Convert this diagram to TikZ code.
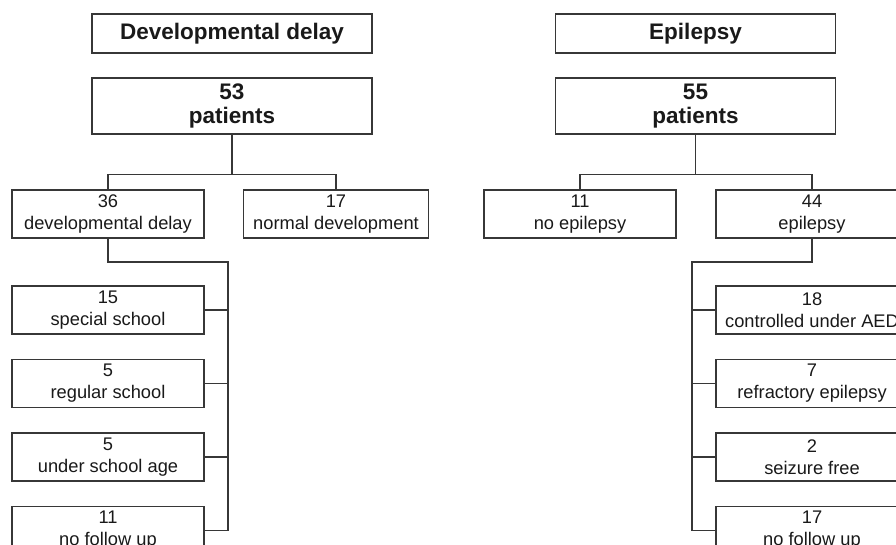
\documentclass[tikz,border=0pt]{standalone}
\usepackage{fontspec}
\setmainfont{Liberation Sans}
\definecolor{boxgray}{RGB}{55,55,55}
\usetikzlibrary{positioning,chains}

\begin{document}
\begin{tikzpicture}[x=0.025cm,y=-0.025cm,
    every node/.style={draw=boxgray,line width=1pt,rectangle,align=center,inner sep=0pt,text=black!90},
    titlenode/.style={minimum width=7cm,minimum height=0.975cm,font=\fontsize{16}{17.5}\selectfont\bfseries},
    topnode/.style={minimum width=7cm,minimum height=1.4cm,font=\fontsize{16}{17.5}\selectfont\bfseries},
    subnode/.style={minimum width=4.8cm,minimum height=1.2cm,font=\fontsize{13}{15.5}\selectfont},
    link/.style={draw=boxgray,line width=1pt}
    ]
    \clip (0,0) rectangle (896,545);

    % the developmental delay tree
    \node[titlenode] (dtitle) at (232,33.5) {Developmental delay};
    \node[topnode] (dall) at (232,106) {53\\patients};
    \node[subnode] (ddelay) at (108,214) {36\\developmental delay};
    \node[subnode,minimum width=4.62cm] (dnormal) at (336,214) {17\\normal development};
    \begin{scope}[start chain=going below,node distance=0.6cm]
    \node[subnode,on chain] (d1) at (108,310) {15\\special school};
    \node[subnode,on chain] (d2) {5\\regular school};
    \node[subnode,on chain] (d3) {5\\under school age};
    \node[subnode,on chain] (d4) {11\\no follow up};
    \end{scope}
    \coordinate (dbus) at (228,262);

    % the epilepsy tree
    \node[titlenode] (etitle) at (695.5,33.5) {Epilepsy};
    \node[topnode] (eall) at (695.5,106) {55\\patients};
    \node[subnode] (enone) at (580,214) {11\\no epilepsy};
    \node[subnode] (eyes) at (812,214) {44\\epilepsy};
    \begin{scope}[start chain=going below,node distance=0.6cm]
    \node[subnode,on chain] (e1) at (812,310) {18\\controlled under AED};
    \node[subnode,on chain] (e2) {7\\refractory epilepsy};
    \node[subnode,on chain] (e3) {2\\seizure free};
    \node[subnode,on chain] (e4) {17\\no follow up};
    \end{scope}
    \coordinate (ebus) at (692,262);

    % the edges
    \draw[link] (dall.south) -- ++(0,40) -| (ddelay.north);
    \draw[link] (dall.south) -- ++(0,40) -| (dnormal.north);
    \draw[link] (ddelay.south) |- (dbus) |- (d4.east);
    \foreach \i in {1,2,3}
      \draw[link] (d\i.east) -- (d\i.east -| dbus);

    \draw[link] (eall.south) -- ++(0,40) -| (enone.north);
    \draw[link] (eall.south) -- ++(0,40) -| (eyes.north);
    \draw[link] (eyes.south) |- (ebus) |- (e4.west);
    \foreach \i in {1,2,3}
      \draw[link] (e\i.west) -- (e\i.west -| ebus);

\end{tikzpicture}
\end{document}
